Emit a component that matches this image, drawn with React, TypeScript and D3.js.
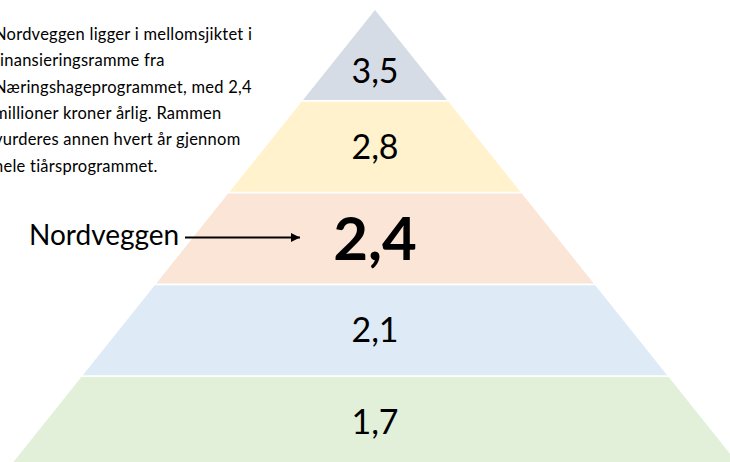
import React from "react";
import * as d3 from "d3";

const levels = ["Topp", "Øvre", "Mellom", "Nedre", "Bunn"];
const values = [3.5, 2.8, 2.4, 2.1, 1.7];
const fills = ["#D6DCE5", "#FFF2CC", "#FBE5D6", "#DEEBF7", "#E2F0D9"];
const highlightIndex = 2;
const highlightLabel = "Nordveggen";
const noteLines = [
  "Nordveggen ligger i mellomsjiktet i",
  "finansieringsramme fra",
  "Næringshageprogrammet, med 2,4",
  "millioner kroner årlig. Rammen",
  "vurderes annen hvert år gjennom",
  "hele tiårsprogrammet.",
];

const W = 730;
const H = 462;
const FONT = "Lato, 'Open Sans', 'DejaVu Sans', sans-serif";

export default function App() {
  const apexY = 10;
  const baseY = 467;
  const cx = 375;
  const y = d3.scaleBand<number>().domain(d3.range(values.length)).range([apexY, baseY]).paddingInner(0.02).paddingOuter(0);
  const half = d3.scaleLinear().domain([apexY, baseY]).range([0, 0.8 * (baseY - apexY)]);
  const fmt = (v: number) => d3.format(".1f")(v).replace(".", ",");

  const lineGen = d3.line<[number, number]>();

  return (
    <div style={{ position: "absolute", left: 0, top: 0 }}>
      <svg width={W} height={H} style={{ display: "block", fontFamily: FONT }}>
        <defs>
          <marker id="arrow" viewBox="0 0 10 10" refX="10" refY="5" markerWidth="5" markerHeight="4.5" orient="auto" markerUnits="strokeWidth">
            <path d="M0,0 L10,5 L0,10 z" fill="#000" />
          </marker>
        </defs>
        {values.map((v, i) => {
          const t = y(i)!;
          const b = t + y.bandwidth();
          const pts: [number, number][] = [
            [cx - half(t), t],
            [cx + half(t), t],
            [cx + half(b), b],
            [cx - half(b), b],
          ];
          const d = lineGen(pts) + "Z";
          const isHi = i === highlightIndex;
          const fs = isHi ? 60 : 34;
          const cap = fs * 0.7165;
          const centerY = t + y.bandwidth() * (i === 0 ? 0.68 : 0.5);
          return (
            <g key={levels[i]}>
              <path d={d} fill={fills[i]} />
              <text
                x={cx}
                y={centerY + cap / 2}
                textAnchor="middle"
                fontSize={fs}
                fontWeight={isHi ? 700 : 400}
                fill="#000"
              >
                {fmt(v)}
              </text>
            </g>
          );
        })}
        {noteLines.map((l, i) => (
          <text key={i} x={-6} y={40 + i * 26.3} fontSize={16.5} letterSpacing={0.25} fill="#000">
            {l}
          </text>
        ))}
        <text x={29} y={245} fontSize={28} fill="#000">
          {highlightLabel}
        </text>
        <line x1={185} y1={237.5} x2={300} y2={237.5} stroke="#000" strokeWidth={2} markerEnd="url(#arrow)" />
      </svg>
    </div>
  );
}
